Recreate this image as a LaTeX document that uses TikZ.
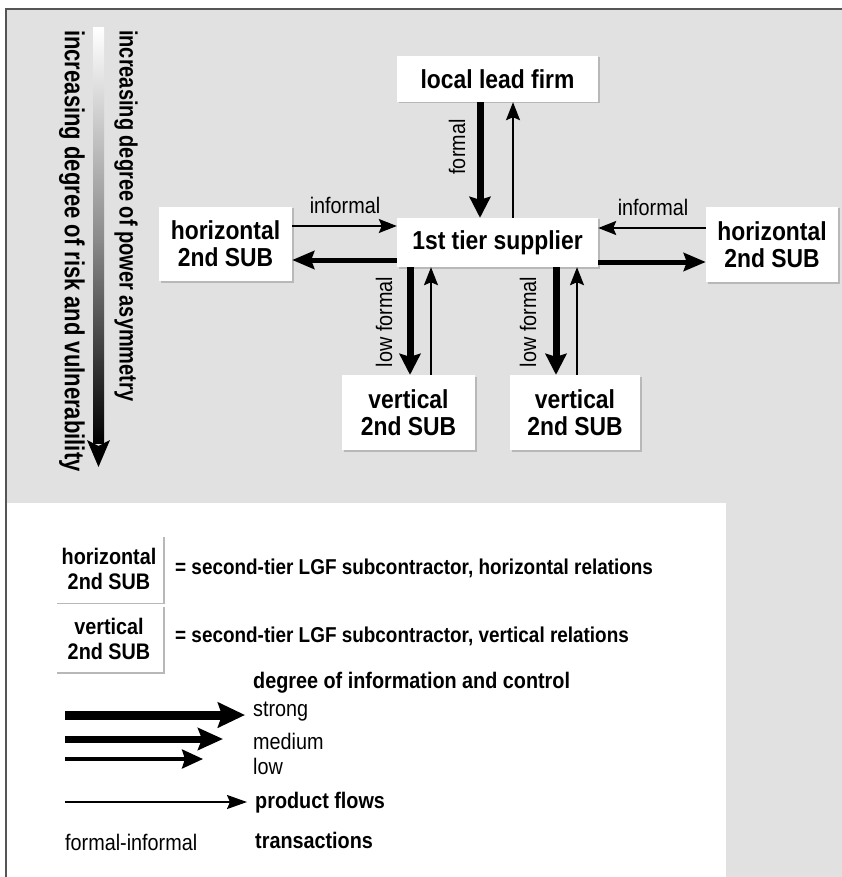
\documentclass[tikz,border=0pt]{standalone}
\usepackage{fontspec}
\setmainfont{Liberation Sans}[FakeStretch=0.88]
\newfontfamily\barfont{Liberation Sans}[FakeStretch=0.8]
\usetikzlibrary{arrows.meta,shadows}
\definecolor{bggray}{RGB}{225,225,225}
\definecolor{framegray}{RGB}{85,85,85}
\begin{document}
\begin{tikzpicture}[x=1pt,y=-1pt,
  box/.style={fill=white, draw=none, inner sep=0pt, align=center,
    font=\fontsize{26}{27}\selectfont\bfseries,
    drop shadow={shadow xshift=1.5pt,shadow yshift=-1.5pt,fill=black!28,opacity=1}},
  legbox/.style={box, font=\fontsize{22.5}{25}\selectfont\bfseries, minimum width=108pt, minimum height=67pt},
  lab/.style={inner sep=0pt, font=\fontsize{22.5}{24}\selectfont},
  labb/.style={inner sep=0pt, font=\fontsize{22.5}{24}\selectfont\bfseries},
  legb/.style={inner sep=0pt, font=\fontsize{21.5}{23}\selectfont\bfseries},
  thickarr/.style={line width=7pt, -{Stealth[length=21pt,width=21pt,inset=3pt]}},
  harr/.style={line width=5pt, -{Stealth[length=22pt,width=18pt,inset=3pt]}},
  thinarr/.style={line width=1.8pt, -{Stealth[length=18pt,width=14pt,inset=3pt]}},
  strongarr/.style={line width=9pt, -{Stealth[length=27pt,width=25pt,inset=4pt]}},
  mediumarr/.style={line width=7pt, -{Stealth[length=25pt,width=22pt,inset=4pt]}},
  lowarr/.style={line width=3.5pt, -{Stealth[length=21pt,width=19pt,inset=3pt]}},
  prodarr/.style={line width=1.8pt, -{Stealth[length=20pt,width=14pt,inset=3pt]}}
]
\useasboundingbox (0,0) rectangle (842,877);
\clip (0,0) rectangle (842,877);
\fill[white] (0,0) rectangle (842,877);
\draw[framegray, line width=1.5pt, fill=bggray] (6,9) rectangle (870,900);
\fill[white] (6.75,503) rectangle (726,900);

% gradient bar
\shade[top color=white, bottom color=black, middle color=black!45] (93,28) rectangle (104,443);
\fill[black] (87,440) -- (98.5,446) -- (110,440) -- (98.5,467) -- cycle;
\node[inner sep=0pt, font=\barfont\fontsize{25}{26}\selectfont\bfseries, rotate=-90, anchor=west] (pw) at (126,30) {increasing degree of power asymmetry};
\node[inner sep=0pt, font=\barfont\fontsize{27.5}{28}\selectfont\bfseries, rotate=-90, anchor=west] (rv) at (72,30) {increasing degree of risk and vulnerability};

% main nodes
\node[box, minimum width=201pt, minimum height=46pt] (lead) at (497.5,79) {local lead firm};
\node[box, minimum width=201pt, minimum height=49pt] (tier) at (497.5,242.5) {1st tier supplier};
\node[box, minimum width=133pt, minimum height=74pt] (hL) at (225.5,244) {horizontal\\2nd SUB};
\node[box, minimum width=132pt, minimum height=75pt] (hR) at (772,244.5) {horizontal\\2nd SUB};
\node[box, minimum width=133pt, minimum height=75pt] (vL) at (408.5,412.5) {vertical\\2nd SUB};
\node[box, minimum width=130pt, minimum height=75pt] (vR) at (575,412.5) {vertical\\2nd SUB};

% connectors
\draw[thickarr] ([xshift=-17.5pt]lead.south) -- ([xshift=-17.5pt]tier.north);
\draw[thinarr] ([xshift=15.5pt]tier.north) -- ([xshift=15.5pt]lead.south);
\draw[thinarr] ([yshift=18pt]hL.east) -- ([yshift=16.5pt]tier.west);
\draw[harr] ([yshift=-17.5pt]tier.west) -- ([yshift=-16pt]hL.east);
\draw[thinarr] ([yshift=16.5pt]hR.west) -- ([yshift=14.5pt]tier.east);
\draw[harr] ([yshift=-19.5pt]tier.east) -- ([yshift=-17.5pt]hR.west);
\draw[thickarr] ([xshift=-87.5pt]tier.south) -- ([xshift=1.5pt]vL.north);
\draw[thinarr] ([xshift=22.5pt]vL.north) -- ([xshift=-66.5pt]tier.south);
\draw[thickarr] ([xshift=58.5pt]tier.south) -- ([xshift=-19pt]vR.north);
\draw[thinarr] ([xshift=2pt]vR.north) -- ([xshift=79.5pt]tier.south);

% connector labels
\node[lab, rotate=90] (lf) at (457,147) {formal};
\node[lab] (li1) at (345,205) {informal};
\node[lab] (li2) at (653,207) {informal};
\node[lab, rotate=90] (llf1) at (384,322) {low formal};
\node[lab, rotate=90] (llf2) at (528,322) {low formal};

% legend
\node[legbox] (lh) at (109,569) {horizontal\\2nd SUB};
\node[legbox] (lv) at (109,638.5) {vertical\\2nd SUB};
\node[legb, anchor=west] (dh) at (175,568) {= second-tier LGF subcontractor, horizontal relations};
\node[legb, anchor=west] (dv) at (175,636) {= second-tier LGF subcontractor, vertical relations};
\node[labb, anchor=west] (deg) at (253,683) {degree of information and control};
\node[lab, anchor=west] (ls) at (253,712) {strong};
\node[lab, anchor=west] (lm) at (253,741) {medium};
\node[lab, anchor=west] (ll) at (253,766) {low};
\node[labb, anchor=west] (lp) at (255,803) {product flows};
\node[lab, anchor=west] (lfi) at (65,842) {formal-informal};
\node[labb, anchor=west] (lt) at (255,840) {transactions};

\coordinate (s0) at (65,715); \coordinate (s1) at (245,715);
\coordinate (m0) at (65,739); \coordinate (m1) at (223,739);
\coordinate (w0) at (65,759); \coordinate (w1) at (203,759);
\coordinate (p0) at (65,802); \coordinate (p1) at (247,802);
\draw[strongarr] (s0) -- (s1);
\draw[mediumarr] (m0) -- (m1);
\draw[lowarr] (w0) -- (w1);
\draw[prodarr] (p0) -- (p1);
\end{tikzpicture}
\end{document}
